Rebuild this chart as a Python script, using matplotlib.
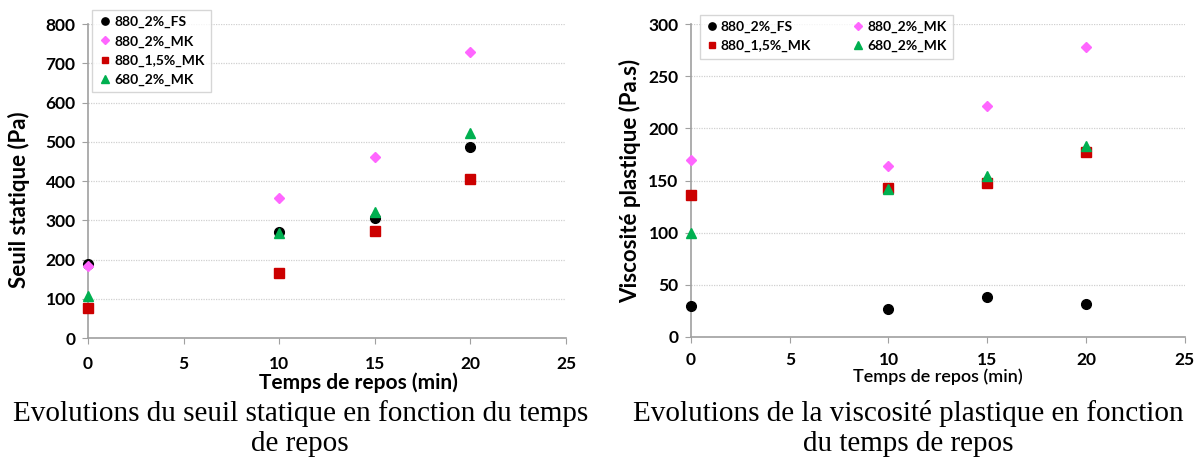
import matplotlib
matplotlib.use("Agg")
import matplotlib.pyplot as plt

# temps de repos (min)
temps = [0, 10, 15, 20]
series = ["880_2%_FS", "880_2%_MK", "880_1,5%_MK", "680_2%_MK"]

# seuil statique (Pa)
seuil_fs = [190, 270, 305, 488]
seuil_mk = [185, 358, 462, 728]
seuil_15mk = [78, 165, 274, 405]
seuil_680 = [108, 267, 322, 523]

# viscosite plastique (Pa.s)
visc_fs = [30, 27, 38, 32]
visc_mk = [170, 164, 222, 278]
visc_15mk = [136, 143, 148, 177]
visc_680 = [100, 142, 154, 183]

styles = [
    dict(marker="o", color="black", ms=7),
    dict(marker="D", color="#ff66ff", ms=5.5),
    dict(marker="s", color="#cc0000", ms=6.5),
    dict(marker="^", color="#00b050", ms=7),
]

plt.rcParams["font.family"] = ["Lato", "DejaVu Sans"]

fig = plt.figure(figsize=(12.01, 4.62), dpi=100)
ax1 = fig.add_axes([0.0733, 0.268, 0.398, 0.68])
ax2 = fig.add_axes([0.5754, 0.2706, 0.411, 0.677])


def habiller(ax, ymax, ystep, ylabel, xl_size, xl_weight, xpad):
    ax.set_xlim(0, 25)
    ax.set_ylim(0, ymax)
    ax.set_xticks(range(0, 26, 5))
    ax.set_yticks(range(0, ymax + 1, ystep))
    ax.yaxis.grid(True, color="#d0d0d0", linestyle=(0, (1, 1)), linewidth=0.9)
    ax.set_axisbelow(True)
    for s in ["top", "right"]:
        ax.spines[s].set_visible(False)
    for s in ["left", "bottom"]:
        ax.spines[s].set_color("#a0a0a0")
        ax.spines[s].set_linewidth(1.2)
    ax.tick_params(axis="both", length=4, color="#a0a0a0", labelsize=12.5)
    ax.tick_params(axis="x", pad=xpad)
    ax.tick_params(axis="y", pad=5)
    for lab in ax.get_xticklabels() + ax.get_yticklabels():
        lab.set_fontweight("bold")
    ax.set_ylabel(ylabel, fontsize=16, fontweight="bold", labelpad=5)
    ax.set_xlabel("Temps de repos (min)", fontsize=xl_size, fontweight=xl_weight, labelpad=0)


ydata1 = [seuil_fs, seuil_mk, seuil_15mk, seuil_680]
for nom, y, st in zip(series, ydata1, styles):
    ax1.plot(temps, y, linestyle="none", label=nom, clip_on=False, zorder=3, **st)
habiller(ax1, 800, 100, "Seuil statique (Pa)", 15, "bold", 9)
ax1.xaxis.set_label_coords(0.565, -0.11)
ax1.yaxis.set_label_coords(-0.122, 0.44)
ax1.legend(loc="upper left", bbox_to_anchor=(0.008, 1.045), ncol=1,
           prop={"size": 10, "weight": "bold"}, frameon=True, fancybox=False,
           edgecolor="#cccccc", handlelength=1.0, handletextpad=0.2, borderpad=0.45,
           borderaxespad=0, labelspacing=0.5, markerscale=0.75)

ydata2 = [visc_fs, visc_mk, visc_15mk, visc_680]
lignes = []
for nom, y, st in zip(series, ydata2, styles):
    l, = ax2.plot(temps, y, linestyle="none", label=nom, clip_on=False, zorder=3, **st)
    lignes.append(l)
habiller(ax2, 300, 50, "Viscosité plastique (Pa.s)", 13, "semibold", 7)
# ordre pour remplir par colonnes : FS, 1,5% | MK, 680
ordre = [0, 2, 1, 3]
ax2.legend([lignes[i] for i in ordre], [series[i] for i in ordre],
           loc="upper left", bbox_to_anchor=(0.018, 1.03), ncol=2,
           prop={"size": 10, "weight": "bold"}, frameon=True, fancybox=False,
           edgecolor="#cccccc", handlelength=0.8, handletextpad=0.25, borderpad=0.45,
           borderaxespad=0, labelspacing=0.5, columnspacing=3.0, markerscale=0.75)

serif = ["Liberation Serif", "DejaVu Serif"]
fig.text(0.25, 0.073, "Evolutions du seuil statique en fonction du temps\nde repos",
         ha="center", va="center", fontsize=21, family=serif, linespacing=1.22)
fig.text(0.756, 0.073, "Evolutions de la viscosité plastique en fonction\ndu temps de repos",
         ha="center", va="center", fontsize=21, family=serif, linespacing=1.22)

fig.savefig("out.png", dpi=100)
